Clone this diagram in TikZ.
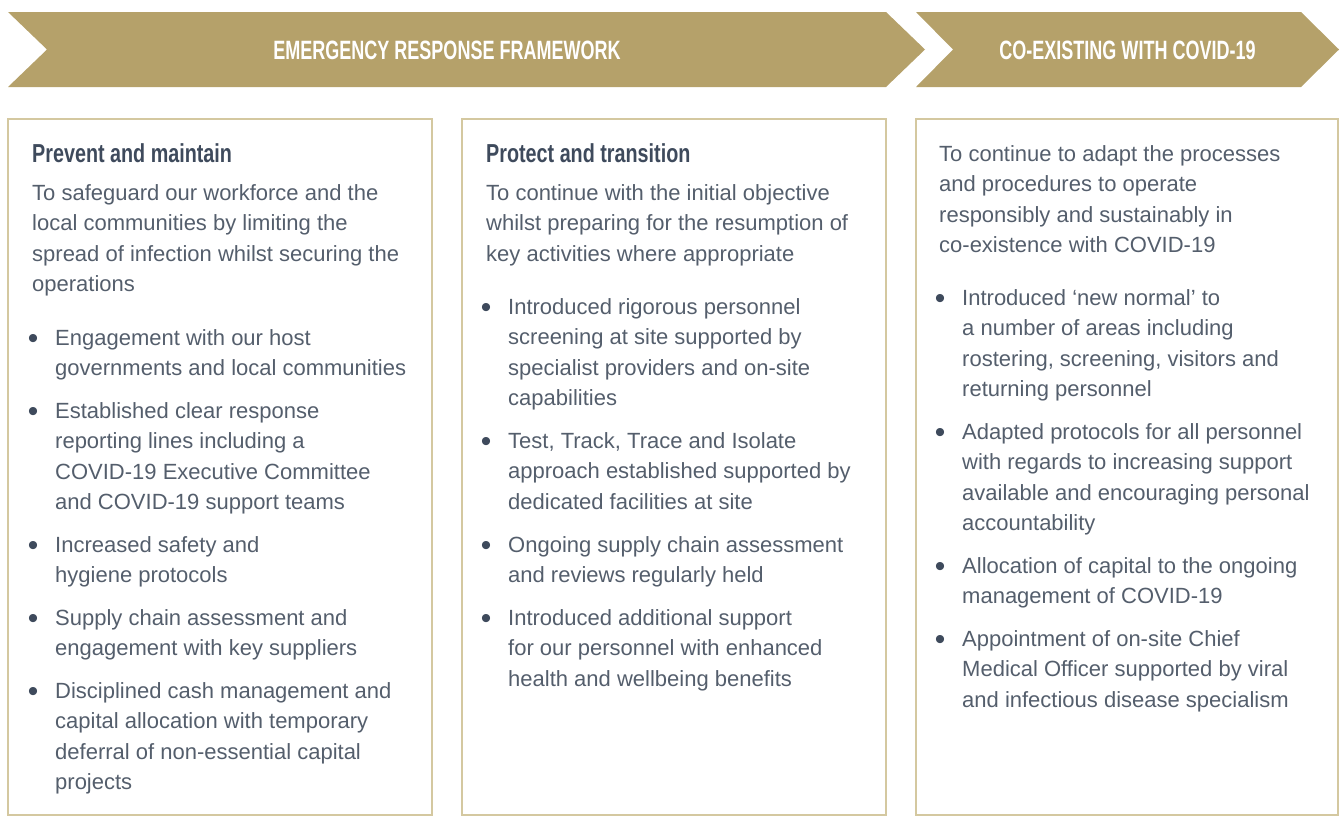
\documentclass[tikz,border=0pt]{standalone}
\usepackage{fontspec}
\usepackage{tikz}
\usepackage{xcolor}
\setmainfont{Liberation Sans}
\newfontfamily\bannerfont[FakeStretch=0.68]{Liberation Sans}
\newfontfamily\headfont[FakeStretch=0.76]{Liberation Sans}
\definecolor{gold}{RGB}{181,161,106}
\definecolor{boxline}{RGB}{212,200,160}
\definecolor{bodytext}{RGB}{84,94,108}
\definecolor{headtext}{RGB}{62,74,92}
\newcommand{\bodysize}{\fontsize{22}{30.4}\selectfont}

\begin{document}
\begin{tikzpicture}[x=1pt,y=-1pt,
  banner/.style={fill=gold},
  bannertext/.style={anchor=base, text=white, font=\bannerfont\bfseries\fontsize{26.5}{30}\selectfont},
  panel/.style={draw=boxline, line width=1.5pt},
  heading/.style={anchor=base west, inner sep=0pt, text=headtext, font=\headfont\bfseries\fontsize{26}{28}\selectfont},
  txt/.style={anchor=north west, yshift=15.3pt, inner sep=0pt, align=left, text=bodytext, font=\bodysize, execute at begin node=\strut},
  bul/.style={anchor=north east, xshift=-16.5pt, inner sep=0pt, text=headtext, font=\bodysize},
  itm/.style={txt, label={[bul]north west:\strut\raisebox{2pt}{\fontsize{30}{30.4}\selectfont\textbullet}}}]
\useasboundingbox (0,0) rectangle (1342,819);
\fill [banner] (8,12) -- (886,12) -- (925,49.5) -- (886,87) -- (8,87) -- (47,49.5) -- cycle;
\fill [banner] (916,12) -- (1301,12) -- (1339,49.5) -- (1301,87) -- (916,87) -- (953,49.5) -- cycle;
\node [bannertext] (erf) at (447,59) {EMERGENCY RESPONSE FRAMEWORK};
\node [bannertext] (cov) at (1127.5,59) {CO-EXISTING WITH COVID-19};
\draw [panel] (8,119) rectangle (432,815);
\draw [panel] (462,119) rectangle (886,815);
\draw [panel] (916,119) rectangle (1338,815);
\node [heading] (prevent) at (32,162) {Prevent and maintain};
\node [txt] (preventaim) at (32,199.5) {To safeguard our workforce and the\\local communities by limiting the\\spread of infection whilst securing the\\operations};
\node [itm] (p1) at (55,344.5) {Engagement with our host\\governments and local communities};
\node [itm] (p2) at (55,417.5) {Established clear response\\reporting lines including a\\COVID-19 Executive Committee\\and COVID-19 support teams};
\node [itm] (p3) at (55,551.5) {Increased safety and\\hygiene protocols};
\node [itm] (p4) at (55,624.5) {Supply chain assessment and\\engagement with key suppliers};
\node [itm] (p5) at (55,697.5) {Disciplined cash management and\\capital allocation with temporary\\deferral of non-essential capital\\projects};
\node [heading] (protect) at (486,162) {Protect and transition};
\node [txt] (protectaim) at (486,199.5) {To continue with the initial objective\\whilst preparing for the resumption of\\key activities where appropriate};
\node [itm] (t1) at (508,313.5) {Introduced rigorous personnel\\screening at site supported by\\specialist providers and on-site\\capabilities};
\node [itm] (t2) at (508,447.5) {Test, Track, Trace and Isolate\\approach established supported by\\dedicated facilities at site};
\node [itm] (t3) at (508,551.5) {Ongoing supply chain assessment\\and reviews regularly held};
\node [itm] (t4) at (508,624.5) {Introduced additional support\\for our personnel with enhanced\\health and wellbeing benefits};
\node [txt] (coexistaim) at (939,160.5) {To continue to adapt the processes\\and procedures to operate\\responsibly and sustainably in\\co-existence with COVID-19};
\node [itm] (c1) at (962,304.5) {Introduced ‘new normal’ to\\a number of areas including\\rostering, screening, visitors and\\returning personnel};
\node [itm] (c2) at (962,438.5) {Adapted protocols for all personnel\\with regards to increasing support\\available and encouraging personal\\accountability};
\node [itm] (c3) at (962,572.5) {Allocation of capital to the ongoing\\management of COVID-19};
\node [itm] (c4) at (962,645.5) {Appointment of on-site Chief\\Medical Officer supported by viral\\and infectious disease specialism};
\end{tikzpicture}
\end{document}
